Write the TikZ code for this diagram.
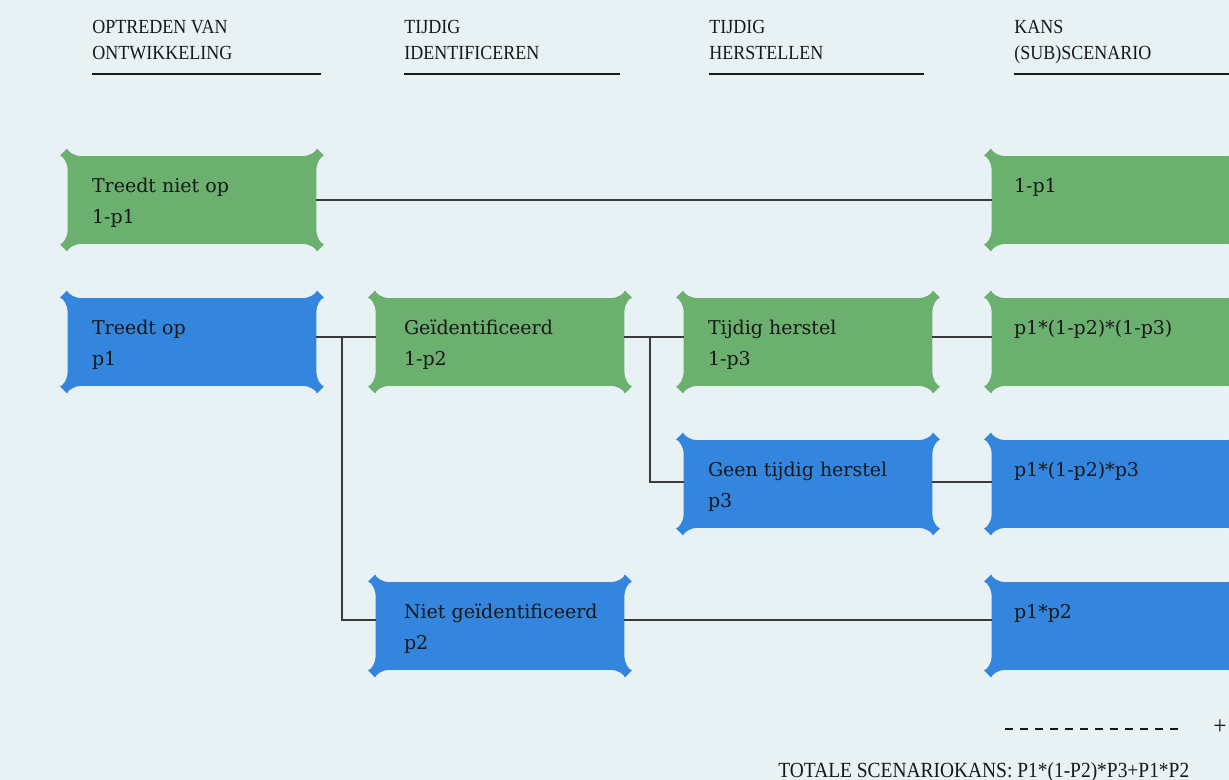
\documentclass[tikz,border=0pt]{standalone}
\usepackage{fontspec}
\setmainfont{DejaVu Serif}
\newfontfamily\headfont[FakeStretch=0.9]{Liberation Serif}
\usetikzlibrary{calc,positioning}

\definecolor{pagebg}{RGB}{232,241,244}
\definecolor{okgreen}{RGB}{108,176,111}
\definecolor{riskblue}{RGB}{52,133,222}
\definecolor{ink}{RGB}{24,24,24}
\definecolor{wire}{RGB}{58,58,58}

\pgfdeclarelayer{boxes}
\pgfsetlayers{boxes,main}

% two text lines at fixed heights inside a 248x87 box
\newcommand\boxtext[3][12pt]{\vbox to 43.5pt{\baselineskip=15.5pt\lineskiplimit=-20pt
  \hbox to 124pt{\hskip#1\vrule height18.2pt width0pt #2\hfil}%
  \hbox to 124pt{\hskip#1 #3\hfil}\vss}}
% one concave corner with a small cut tip (u = incoming, v = outgoing direction)
\newcommand\cnr[5]{%
  -- ($(#1)+({-14*(#2)},{-14*(#3)})$)
  .. controls ($(#1)+({-6*(#2)},{-6*(#3)})$) and ($(#1)+({-0.5*(#2)-4.5*(#4)},{-0.5*(#3)-4.5*(#5)})$)
  .. ($(#1)+({0.5*(#2)-7.5*(#4)},{0.5*(#3)-7.5*(#5)})$)
  -- ($(#1)+({7.5*(#2)-0.5*(#4)},{7.5*(#3)-0.5*(#5)})$)
  .. controls ($(#1)+({4.5*(#2)+0.5*(#4)},{4.5*(#3)+0.5*(#5)})$) and ($(#1)+({6*(#4)},{6*(#5)})$)
  .. ($(#1)+({14*(#4)},{14*(#5)})$)}
\newcommand\blob[2]{\fill[#2] ($(#1.north west)+(14,0)$)
  \cnr{#1.north east}{1}{0}{0}{1} \cnr{#1.south east}{0}{1}{-1}{0}
  \cnr{#1.south west}{-1}{0}{0}{-1} \cnr{#1.north west}{0}{-1}{1}{0} -- cycle;}

\begin{document}
\begin{tikzpicture}[x=0.5pt,y=-0.5pt,
  box/.style={inner sep=0pt,text=ink,font=\fontsize{9.5}{15.5}\selectfont},
  head/.style={anchor=north west,inner sep=0pt,align=left,text=ink,font=\headfont\fontsize{10}{13}\selectfont},
  sumtext/.style={inner sep=0pt,text=ink,font=\headfont\fontsize{10.8}{13}\selectfont},
  link/.style={draw=wire,line width=0.65pt}]
\useasboundingbox (0,0) rectangle (1229,780);
\begin{pgfonlayer}{boxes}
  \fill[pagebg] (0,0) rectangle (1229,780);
\end{pgfonlayer}

% column heads
\node[head] (h1) at (92,20) {OPTREDEN VAN\\ONTWIKKELING};
\node[head] (h2) at (404,20) {TIJDIG\\IDENTIFICEREN};
\node[head] (h3) at (709,20) {TIJDIG\\HERSTELLEN};
\node[head] (h4) at (1014,20) {KANS\\(SUB)SCENARIO};
\foreach \a/\b in {92/321,404/620,709/924,1014/1229}
  \draw[ink,line width=1pt] (\a,74) -- (\b,74);

% scenario boxes
\node[box] (a1) at (192,200) {\boxtext{Treedt niet op}{1-p1}};
\node[box] (a2) at (192,342) {\boxtext{Treedt op}{p1}};
\node[box] (b2) at (500,342) {\boxtext[14pt]{Geïdentificeerd}{1-p2}};
\node[box] (b4) at (500,626) {\boxtext[14pt]{Niet geïdentificeerd}{p2}};
\node[box] (c2) at (808,342) {\boxtext{Tijdig herstel}{1-p3}};
\node[box] (c3) at (808,484) {\boxtext{Geen tijdig herstel}{p3}};
\node[box] (d1) at (1116,200) {\boxtext[11pt]{1-p1}{}};
\node[box] (d2) at (1116,342) {\boxtext[11pt]{p1*(1-p2)*(1-p3)}{}};
\node[box] (d3) at (1116,484) {\boxtext[11pt]{p1*(1-p2)*p3}{}};
\node[box] (d4) at (1116,626) {\boxtext[11pt]{p1*p2}{}};

\begin{pgfonlayer}{boxes}
  \foreach \n/\c in {a1/okgreen,b2/okgreen,c2/okgreen,d1/okgreen,d2/okgreen,
                     a2/riskblue,b4/riskblue,c3/riskblue,d3/riskblue,d4/riskblue}
    {\blob{\n}{\c}}
\end{pgfonlayer}

% connectors
\draw[link] (a1) -- (d1);
\draw[link] ([yshift=2.5pt]a2.east) -- ([yshift=2.5pt]b2.west);
\coordinate (s1) at ($([yshift=2.5pt]a2.east)!0.43!([yshift=2.5pt]b2.west)$);
\draw[link] (s1) |- ([yshift=3pt]b4.west);
\draw[link] ([yshift=2.5pt]b2.east) -- ([yshift=2.5pt]c2.west);
\coordinate (s2) at ($([yshift=2.5pt]b2.east)!0.43!([yshift=2.5pt]c2.west)$);
\draw[link] (s2) |- ([yshift=1pt]c3.west);
\draw[link] ([yshift=2.5pt]c2.east) -- ([yshift=2.5pt]d2.west);
\draw[link] ([yshift=1pt]c3.east) -- ([yshift=1pt]d3.west);
\draw[link] ([yshift=3pt]b4.east) -- ([yshift=3pt]d4.west);

% total
\draw[ink,line width=0.8pt,dash pattern=on 4pt off 3.5pt] (1005,729) -- (1180,729);
\node[sumtext,font=\headfont\fontsize{13}{13}\selectfont] (plus) at (1220,727) {+};
\node[sumtext,anchor=base west] (total) at (778,777) {TOTALE SCENARIOKANS: P1*(1-P2)*P3+P1*P2};
\end{tikzpicture}
\end{document}
